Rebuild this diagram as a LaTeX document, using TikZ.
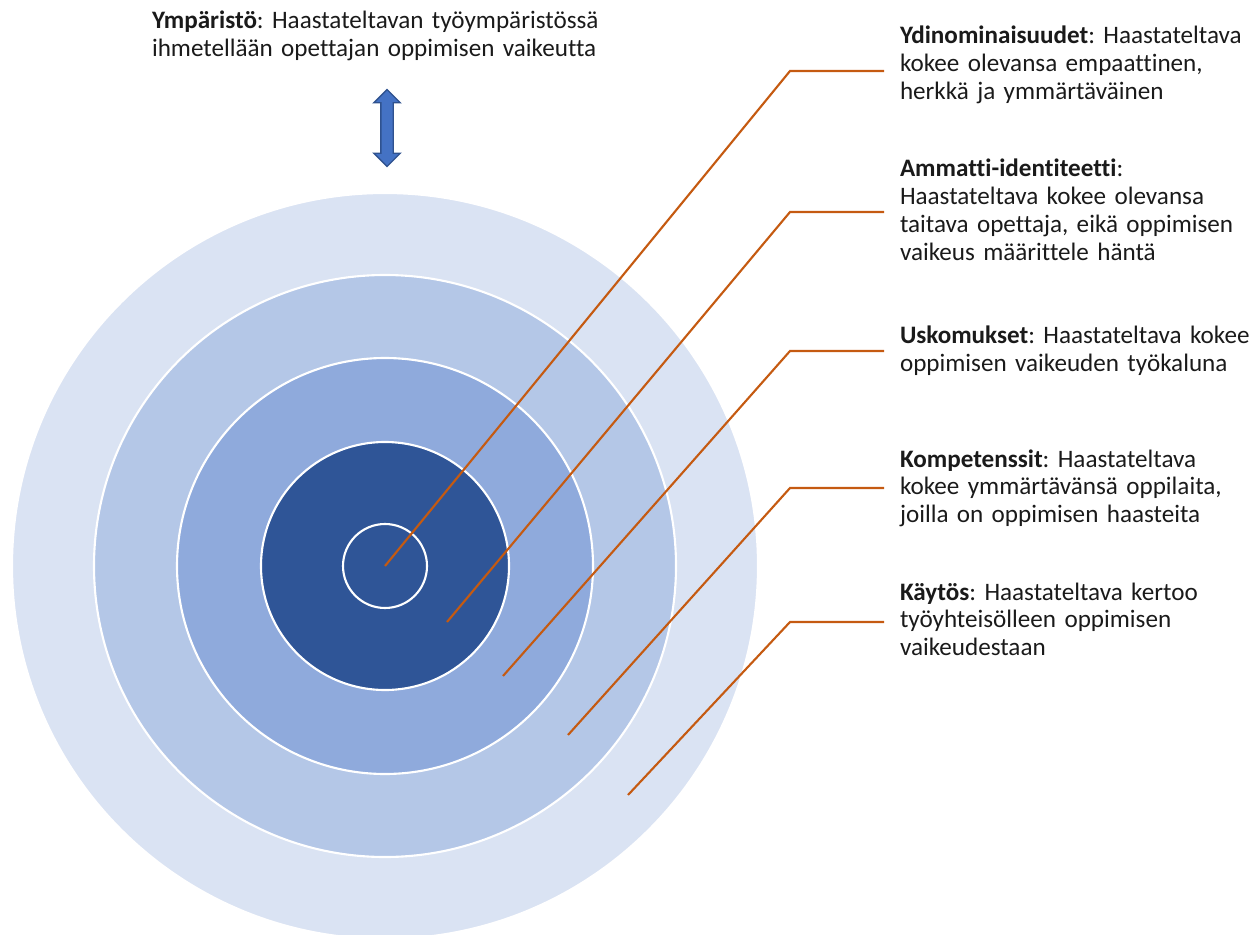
\documentclass[tikz,border=0pt]{standalone}
\usepackage{fontspec}
\setmainfont{Carlito}[Ligatures=NoCommon]
\frenchspacing
\usetikzlibrary{%
  calc,%
  shapes.arrows%
}
\definecolor{rengasA}{HTML}{DAE3F3}
\definecolor{rengasB}{HTML}{B4C7E7}
\definecolor{rengasC}{HTML}{8FAADC}
\definecolor{rengasD}{HTML}{2F5597}
\definecolor{oranssi}{HTML}{C55A11}
\definecolor{teksti}{HTML}{1A1A1A}
\definecolor{nuolisini}{HTML}{4472C4}
\definecolor{nuolireuna}{HTML}{2F528F}
\tikzset{>=latex, rengas/.style = {draw=white, line width=1.2pt},
  selite/.style = {anchor=base west, inner sep=0pt, outer sep=0pt, text width=12cm,
    align=left, text=teksti, font=\fontsize{14.3}{15.9}\selectfont},
  viiva/.style = {draw=oranssi, line width=1.2pt, shorten >=0.32cm},
  nuoli/.style = {double arrow, rotate=90, minimum height=1.54cm, minimum width=0.5cm,
    double arrow head extend=0.14cm, inner sep=0.11cm, fill=nuolisini, draw=nuolireuna,
    line width=0.8pt}}

\begin{document}
\begin{tikzpicture}[x=0.02cm,y=0.02cm]
    \useasboundingbox (0,0) rectangle (1256,934);
    \coordinate (keski) at (385,368);
    % renkaat
    \fill[rengasA,rengas] (keski) circle[radius=373];
    \fill[rengasB,rengas] (keski) circle[radius=291];
    \fill[rengasC,rengas] (keski) circle[radius=208];
    \fill[rengasD,rengas] (keski) circle[radius=124];
    \draw[rengas] (keski) circle[radius=42];
    % tekstit
    \node[selite] (ymp) at (152,905) {\textbf{Ympäristö}: Haastateltavan työympäristössä\\ihmetellään opettajan oppimisen vaikeutta};
    \node[nuoli] (nuoli) at (387,806) {};
    \node[selite] (ydin) at (900,890) {\textbf{Ydinominaisuudet}: Haastateltava\\kokee olevansa empaattinen,\\herkkä ja ymmärtäväinen};
    \node[selite] (amm) at (900,757) {\textbf{Ammatti-identiteetti}:\\Haastateltava kokee olevansa\\taitava opettaja, eikä oppimisen\\vaikeus määrittele häntä};
    \node[selite] (usk) at (900,590) {\textbf{Uskomukset}: Haastateltava kokee\\oppimisen vaikeuden työkaluna};
    \node[selite] (komp) at (900,467) {\textbf{Kompetenssit}: Haastateltava\\kokee ymmärtävänsä oppilaita,\\joilla on oppimisen haasteita};
    \node[selite] (kay) at (900,334) {\textbf{Käytös}: Haastateltava kertoo\\työyhteisölleen oppimisen\\vaikeudestaan};
    % viivat
    \coordinate (p2) at (447,312);
    \coordinate (p3) at (503,258);
    \coordinate (p4) at (568,199);
    \coordinate (p5) at (628,139);
    \coordinate (k1) at (790,863);
    \coordinate (k2) at (790,722);
    \coordinate (k3) at (790,583);
    \coordinate (k4) at (790,446);
    \coordinate (k5) at (790,312);
    \draw[viiva] (keski) -- (k1) -- (k1 -| ydin.west);
    \draw[viiva] (p2) -- (k2) -- (k2 -| amm.west);
    \draw[viiva] (p3) -- (k3) -- (k3 -| usk.west);
    \draw[viiva] (p4) -- (k4) -- (k4 -| komp.west);
    \draw[viiva] (p5) -- (k5) -- (k5 -| kay.west);
\end{tikzpicture}
\end{document}
